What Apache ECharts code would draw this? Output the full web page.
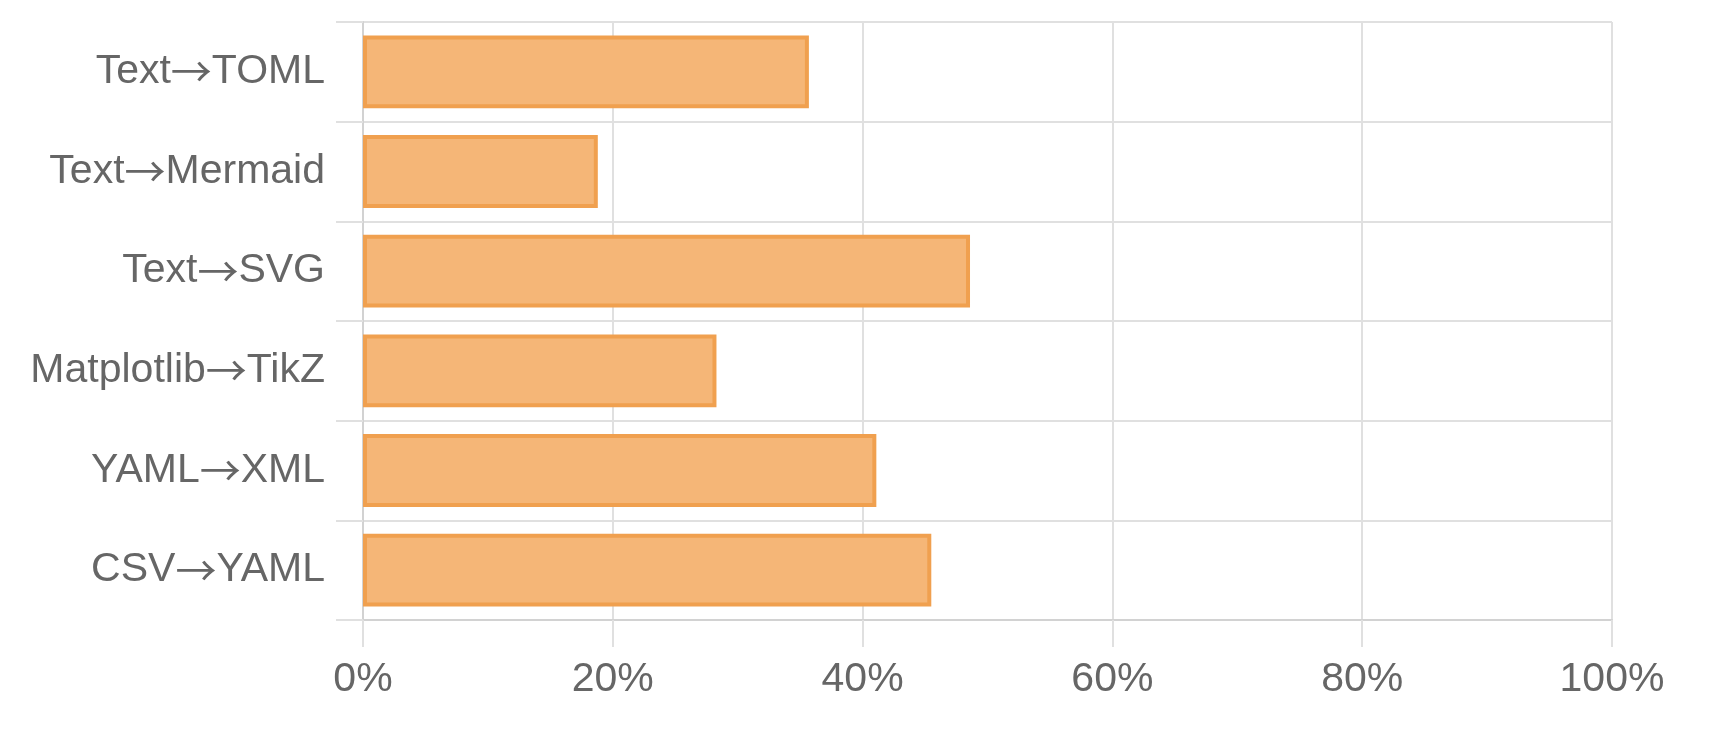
<!DOCTYPE html>
<html>
<head>
<meta charset="utf-8">
<script src="https://cdn.jsdelivr.net/npm/echarts@6/dist/echarts.min.js"></script>
<style>
  html, body { margin: 0; padding: 0; background: #fff; }
  #chart { width: 1726px; height: 730px; }
</style>
</head>
<body>
<div id="chart"></div>
<script>
// categories, top to bottom
var categories = ['Text→TOML', 'Text→Mermaid', 'Text→SVG', 'Matplotlib→TikZ', 'YAML→XML', 'CSV→YAML'];
// share in percent
var values = [35.7, 18.8, 48.6, 28.3, 41.1, 45.5];
var xTicks = [0, 20, 40, 60, 80, 100];

var chart = echarts.init(document.getElementById('chart'));

var font = '"Liberation Sans", Arial, Helvetica, sans-serif';
var gridColor = '#e0e0e0';

// liberation's arrow is tiny, draw it with a wider font instead
function arrowLabel(name) {
    var parts = name.split('→');
    return '{t|' + parts[0] + '}{arr|→}{t|' + parts[1] + '}';
}

var option = {
    animation: false,
    grid: { left: 363, right: 114, top: 22, bottom: 110 },
    xAxis: {
        type: 'value',
        min: xTicks[0],
        max: xTicks[xTicks.length - 1],
        interval: xTicks[1] - xTicks[0],
        axisLine: { show: true, lineStyle: { color: '#d2d2d2', width: 2 } },
        axisTick: { show: true, length: 27, lineStyle: { color: gridColor, width: 2 } },
        splitLine: { show: true, lineStyle: { color: gridColor, width: 2 } },
        axisLabel: {
            margin: 39,
            color: '#666',
            fontFamily: font,
            fontSize: 41,
            formatter: function (v) { return v + '%'; }
        }
    },
    yAxis: {
        type: 'category',
        data: categories,
        inverse: true,
        axisLine: { show: true, lineStyle: { color: '#d2d2d2', width: 2 } },
        axisTick: { show: true, length: 27, lineStyle: { color: gridColor, width: 2 } },
        splitLine: { show: true, lineStyle: { color: gridColor, width: 2 } },
        axisLabel: {
            margin: 38,
            formatter: arrowLabel,
            rich: {
                t: { color: '#666', fontFamily: font, fontSize: 41 },
                arr: { color: '#666', fontFamily: '"Noto Sans CJK SC"', fontSize: 41 }
            }
        }
    },
    series: [{
        type: 'bar',
        data: values,
        barCategoryGap: '27%',
        itemStyle: {
            color: '#f5b677',
            borderColor: '#f0a04f',
            borderWidth: 4
        }
    }]
};

chart.setOption(option);
</script>
</body>
</html>
